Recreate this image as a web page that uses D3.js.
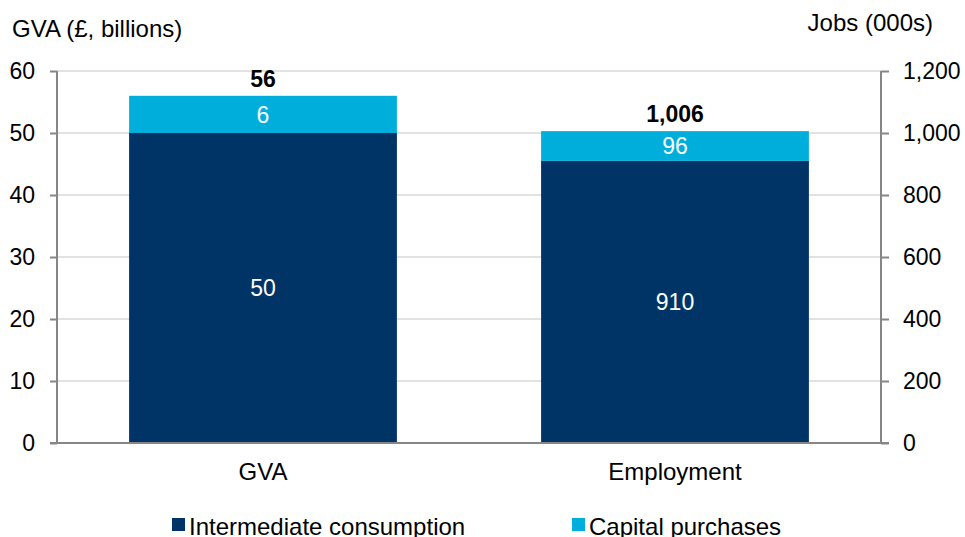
<!DOCTYPE html>
<html>
<head>
<meta charset="utf-8">
<script src="https://cdn.jsdelivr.net/npm/d3@7"></script>
<style>
  html, body { margin: 0; padding: 0; background: #fff; }
  svg { display: block; font-family: "Liberation Sans", Arial, sans-serif; }
</style>
</head>
<body>
<svg id="chart" width="965" height="537"></svg>
<script>
// ---- data ----
const categories = ["GVA", "Employment"];
const seriesNames = ["Intermediate consumption", "Capital purchases"];
const intermediate = [50, 910];
const capital = [6, 96];
const totals = [56, 1006];
const totalLabels = ["56", "1,006"];
const segLabels = [["50", "910"], ["6", "96"]];
const leftTicks = [0, 10, 20, 30, 40, 50, 60];
const rightTicks = [0, 200, 400, 600, 800, 1000, 1200];
const rightTickLabels = ["0", "200", "400", "600", "800", "1,000", "1,200"];
const leftTitle = "GVA (£, billions)";
const rightTitle = "Jobs (000s)";

// ---- layout ----
const colors = ["#003366", "#00AEDB"];
const plot = { left: 57, right: 881, top: 71, bottom: 443 };
const svg = d3.select("#chart");

const x = d3.scaleBand().domain(categories).range([plot.left, plot.right])
  .paddingInner(0.35).paddingOuter(0.175);
const yLeft = d3.scaleLinear().domain([0, 60]).range([plot.bottom, plot.top]);
const yRight = d3.scaleLinear().domain([0, 1200]).range([plot.bottom, plot.top]);
const scaleFor = [yLeft, yRight];

// gridlines
svg.append("g").selectAll("line").data(leftTicks.filter(d => d > 0)).join("line")
  .attr("x1", plot.left).attr("x2", plot.right)
  .attr("y1", d => yLeft(d)).attr("y2", d => yLeft(d))
  .attr("stroke", "#d9d9d9").attr("stroke-width", 1.5);

// bars
const stacks = categories.map((c, i) => {
  const s = scaleFor[i];
  return [
    { cat: c, y0: 0, y1: intermediate[i], s, color: colors[0], label: segLabels[0][i] },
    { cat: c, y0: intermediate[i], y1: intermediate[i] + capital[i], s, color: colors[1], label: segLabels[1][i] }
  ];
}).flat();

svg.append("g").selectAll("rect").data(stacks).join("rect")
  .attr("x", d => x(d.cat)).attr("width", x.bandwidth())
  .attr("y", d => d.s(d.y1)).attr("height", d => d.s(d.y0) - d.s(d.y1))
  .attr("fill", d => d.color);

svg.append("g").selectAll("text").data(stacks).join("text")
  .attr("x", d => x(d.cat) + x.bandwidth() / 2)
  .attr("y", d => (d.s(d.y0) + d.s(d.y1)) / 2)
  .attr("dy", "0.36em")
  .attr("text-anchor", "middle").attr("fill", "#fff").attr("font-size", 23)
  .text(d => d.label);

// totals
svg.append("g").selectAll("text").data(categories).join("text")
  .attr("x", d => x(d) + x.bandwidth() / 2)
  .attr("y", (d, i) => scaleFor[i](totals[i]) - 9)
  .attr("text-anchor", "middle").attr("font-weight", "bold").attr("font-size", 23)
  .attr("fill", "#000")
  .text((d, i) => totalLabels[i]);

// axes
const axisColor = "#868686";
const gL = svg.append("g").attr("transform", `translate(${plot.left},0)`)
  .call(d3.axisLeft(yLeft).tickValues(leftTicks).tickSize(7).tickPadding(15));
const gR = svg.append("g").attr("transform", `translate(${plot.right},0)`)
  .call(d3.axisRight(yRight).tickValues(rightTicks).tickSize(8).tickPadding(14)
    .tickFormat((d, i) => rightTickLabels[i]));
const gB = svg.append("g").attr("transform", `translate(0,${plot.bottom})`)
  .call(d3.axisBottom(x).tickSize(0).tickPadding(20));
[gL, gR, gB].forEach(g => {
  g.select(".domain").attr("stroke", axisColor).attr("stroke-width", 2);
  g.selectAll(".tick line").attr("stroke", axisColor).attr("stroke-width", 2);
  g.selectAll(".tick text").attr("fill", "#000").attr("font-size", 23)
    .attr("font-family", "Liberation Sans, Arial, sans-serif");
});
gB.selectAll(".tick text").attr("font-size", 24);
gL.select(".domain").attr("d", `M0,${plot.top}V${plot.bottom}`);
gR.select(".domain").attr("d", `M0,${plot.top}V${plot.bottom}`);
gB.select(".domain").attr("d", `M${plot.left - 7},0H${plot.right + 8}`);

// axis titles
svg.append("text").attr("x", 12).attr("y", 37).attr("font-size", 24).attr("fill", "#000").text(leftTitle);
svg.append("text").attr("x", 933).attr("y", 31).attr("text-anchor", "end").attr("font-size", 24).attr("fill", "#000").text(rightTitle);

// legend
const legendX = [172, 572];
const lg = svg.append("g").selectAll("g").data(seriesNames).join("g")
  .attr("transform", (d, i) => `translate(${legendX[i]},518)`);
lg.append("rect").attr("width", 13).attr("height", 13).attr("fill", (d, i) => colors[i]);
lg.append("text").attr("x", 17).attr("y", 17).attr("font-size", 24).attr("fill", "#000").text(d => d);
</script>
</body>
</html>
